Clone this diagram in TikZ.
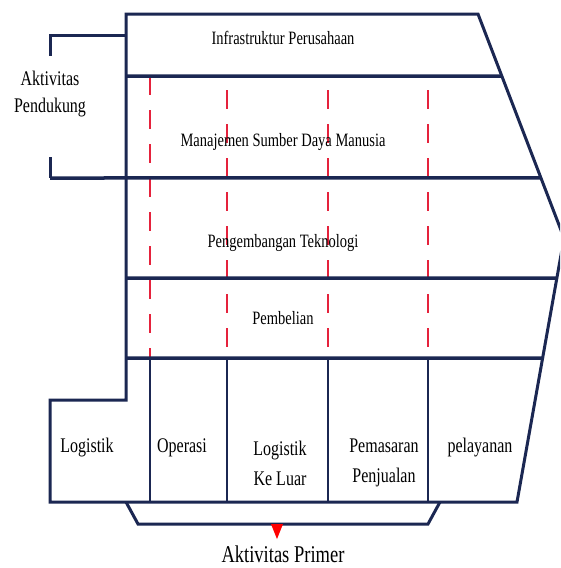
\documentclass[tikz,border=0pt]{standalone}
\usepackage{fontspec}
\usepackage{graphicx}
\setmainfont{Liberation Serif}
\usetikzlibrary{calc}

\definecolor{navy}{HTML}{1B2752}
\definecolor{cutred}{HTML}{E5223C}

% tall, narrow-looking lettering
\newcommand{\tallword}[1]{\scalebox{1}[1.3]{#1}}

\tikzset{
  frame/.style={draw=navy, line width=3pt, line join=miter},
  rowline/.style={draw=navy, line width=3.5pt},
  cellline/.style={draw=navy, line width=2.2pt},
  cutline/.style={draw=cutred, line width=2.4pt, dash pattern=on 19pt off 15pt},
  suplabel/.style={font=\fontsize{14.5}{17}\selectfont, inner sep=0pt},
  primlabel/.style={font=\fontsize{16}{30}\selectfont, align=center, inner sep=0pt},
  sidelabel/.style={font=\fontsize{16}{27}\selectfont, align=center, inner sep=0pt},
  mainlabel/.style={font=\fontsize{18.5}{22}\selectfont, inner sep=0pt}
}

\begin{document}
\begin{tikzpicture}[x=1pt, y=-1pt]
  \useasboundingbox (0,0) rectangle (560,568);
  \fill[white] (0,0) rectangle (560,568);
  \clip (0,0) rectangle (560,568);

  % corners of the value-chain outline
  \coordinate (tl) at (126,14);
  \coordinate (tr) at (478,14);
  \coordinate (apex) at (564,238);
  \coordinate (br) at (517,502);
  \coordinate (bl) at (50,502);
  \coordinate (stepL) at (50,400);
  \coordinate (stepR) at (126,400);

  % ends of the row separators on the slanted edges
  \coordinate (r1R) at ($(tr)!0.277!(apex)$);
  \coordinate (r2R) at ($(tr)!0.732!(apex)$);
  \coordinate (r3R) at ($(br)!0.848!(apex)$);
  \coordinate (r4R) at ($(br)!0.545!(apex)$);
  \coordinate (r1L) at (126,76);
  \coordinate (r2L) at (50,178);
  \coordinate (r3L) at (126,278);
  \coordinate (r4L) at (126,358);

  % red dashed cut lines through the support rows
  \coordinate (c1t) at (150,76);  \coordinate (c1b) at (150,358);
  \coordinate (c2t) at (227,90);  \coordinate (c2b) at (227,358);
  \coordinate (c3t) at (328,90);  \coordinate (c3b) at (328,358);
  \coordinate (c4t) at (428,90);  \coordinate (c4b) at (428,358);
  \draw[cutline] (c1t) -- (c1b);
  \draw[cutline] (c2t) -- (c2b);
  \draw[cutline] (c3t) -- (c3b);
  \draw[cutline] (c4t) -- (c4b);

  % primary activity cells
  \coordinate (p1t) at (150,358); \coordinate (p1b) at (150,502);
  \coordinate (p2t) at (227,358); \coordinate (p2b) at (227,502);
  \coordinate (p3t) at (328,358); \coordinate (p3b) at (328,502);
  \coordinate (p4t) at (428,358); \coordinate (p4b) at (428,502);
  \draw[cellline] (p1t) -- (p1b);
  \draw[cellline] (p2t) -- (p2b);
  \draw[cellline] (p3t) -- (p3b);
  \draw[cellline] (p4t) -- (p4b);

  % row separators
  \draw[rowline] (r1L) -- (r1R);
  \draw[rowline] (r2L) -- (r2R);
  \draw[rowline] (r3L) -- (r3R);
  \draw[rowline] (r4L) -- (r4R);

  % outline
  \draw[frame] (stepR) -- (tl) -- (tr) -- (apex) -- (br) -- (bl) -- (stepL) -- cycle;

  % bracket for the support activities
  \coordinate (bkTop) at (50,35);
  \coordinate (bkTopR) at (126,35);
  \coordinate (bkA) at (50,56);
  \coordinate (bkB) at (50,157);
  \draw[frame] (bkTopR) -- (bkTop) -- (bkA);
  \draw[frame] (bkB) -- (r2L);

  % bracket under the primary activities
  \coordinate (pbA) at (126,502);
  \coordinate (pbB) at (138,524);
  \coordinate (pbC) at (428,524);
  \coordinate (pbD) at (440,502);
  \draw[frame] (pbA) -- (pbB) -- (pbC) -- (pbD);
  \coordinate (tipL) at (271,524);
  \coordinate (tipR) at (283,524);
  \coordinate (tipB) at (277,539);
  \fill[red] (tipL) -- (tipR) -- (tipB) -- cycle;

  % labels
  \node[suplabel] (infra) at (283,38) {\tallword{Infrastruktur Perusahaan}};
  \node[suplabel] (sdm) at (283,142) {\tallword{Manajemen Sumber Daya Manusia}};
  \node[suplabel] (tek) at (283,243) {\tallword{Pengembangan Teknologi}};
  \node[suplabel] (beli) at (283,318) {\tallword{Pembelian}};

  \node[sidelabel] (pend) at (50,94) {\tallword{Aktivitas}\\\tallword{Pendukung}};

  \node[primlabel] (log) at (87,448) {\tallword{Logistik}};
  \node[primlabel] (ops) at (182,448) {\tallword{Operasi}};
  \node[primlabel] (logk) at (280,463) {\tallword{Logistik}\\\tallword{Ke Luar}};
  \node[primlabel] (pem) at (384,463) {\tallword{Pemasaran}\\\tallword{Penjualan}};
  \node[primlabel] (lay) at (480,448) {\tallword{pelayanan}};

  \node[mainlabel] (prim) at (283,554) {\tallword{Aktivitas Primer}};
\end{tikzpicture}
\end{document}
